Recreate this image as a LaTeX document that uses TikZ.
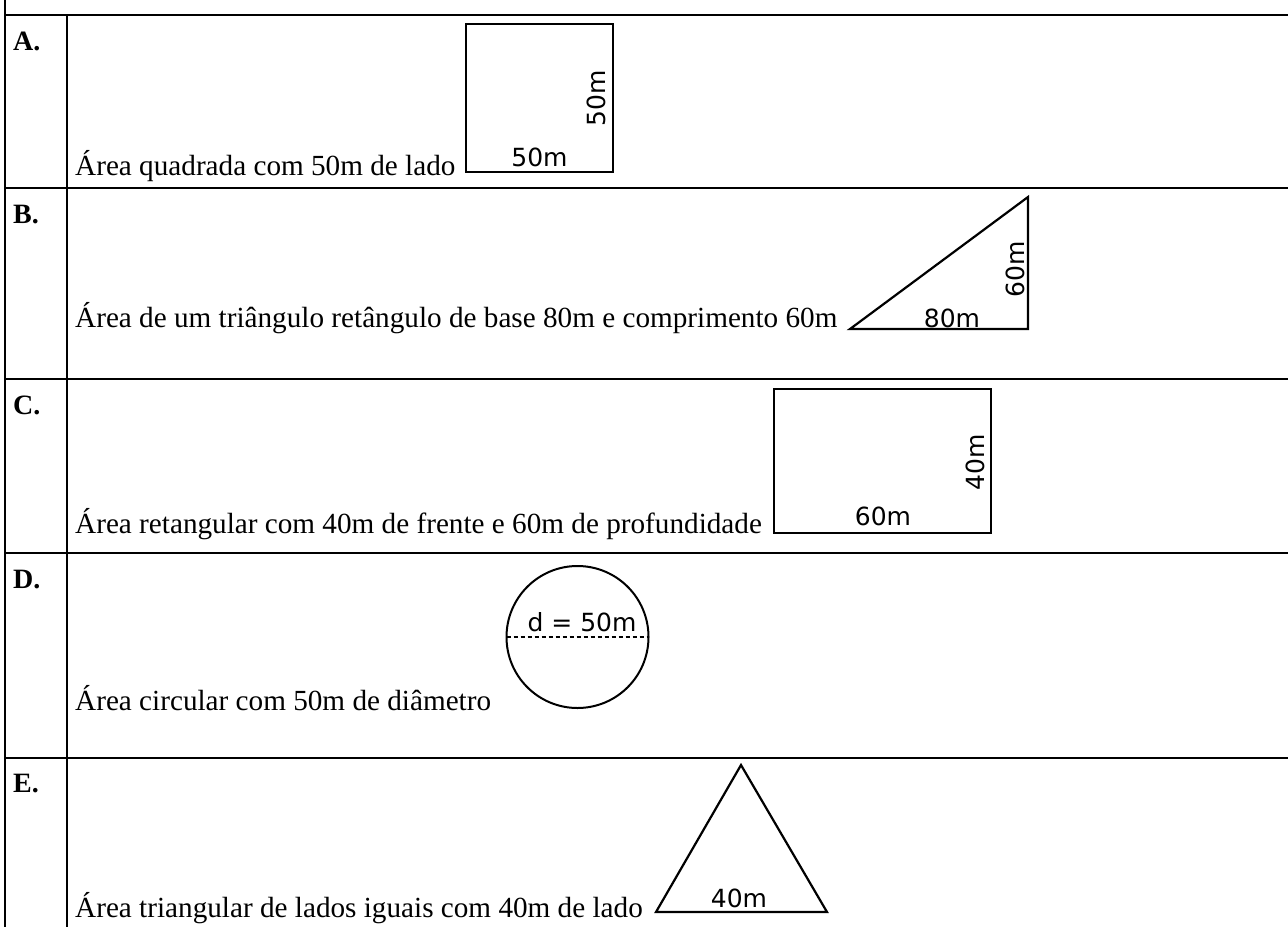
\documentclass[tikz,border=0pt]{standalone}
\usepackage{fontspec}
\setmainfont{Liberation Serif}
\newfontfamily\dimfont{DejaVu Sans}
\begin{document}
\begin{tikzpicture}[x=1pt,y=-1pt,
  body/.style={anchor=base west, inner sep=0pt, font=\fontsize{29.2}{35}\selectfont},
  lab/.style={anchor=base west, inner sep=0pt, font=\fontsize{28}{33}\selectfont\bfseries},
  dimlab/.style={inner sep=0pt, font=\dimfont\fontsize{25}{29}\selectfont},
  gridline/.style={line width=1.5pt},
  shp/.style={line width=2.2pt, line join=miter}]
\useasboundingbox (0,0) rectangle (1288,927);
% table lines
\draw[gridline] (5,0) -- (5,927);
\draw[gridline] (67,15) -- (67,927);
\foreach \yy in {15,188,379,553,758} \draw[gridline] (5,\yy) -- (1288,\yy);
% labels
\node[lab] (la) at (13,50) {A.};
\node[lab] (lb) at (13,223) {B.};
\node[lab] (lc) at (13,414) {C.};
\node[lab] (ld) at (13,588) {D.};
\node[lab] (le) at (13,792) {E.};
% row A
\node[body] (ta) at (75,175) {Área quadrada com 50m de lado};
\draw[shp] (466,24) rectangle (613,172);
\node[dimlab, anchor=base] (a1) at (539.5,166) {50m};
\node[dimlab, rotate=90, anchor=center] (a2) at (596,98) {50m};
% row B
\node[body] (tb) at (75,327) {Área de um triângulo retângulo de base 80m e comprimento 60m};
\draw[shp] (850,329) -- (1028,329) -- (1028,197) -- cycle;
\node[dimlab, anchor=base] (b1) at (952,327) {80m};
\node[dimlab, rotate=90, anchor=center] (b2) at (1015,269) {60m};
% row C
\node[body] (tc) at (75,533) {Área retangular com 40m de frente e 60m de profundidade};
\draw[shp] (774,389) rectangle (991,533);
\node[dimlab, anchor=base] (c1) at (883,525) {60m};
\node[dimlab, rotate=90, anchor=center] (c2) at (975,462) {40m};
% row D
\node[body] (td) at (75,710) {Área circular com 50m de diâmetro};
\draw[line width=2pt] (577.5,637) circle (71);
\draw[line width=1.2pt, dash pattern=on 4pt off 3pt] (506.5,637) -- (648.5,637);
\node[dimlab, anchor=base] (d1) at (582,631) {d = 50m};
% row E
\node[body] (te) at (75,917) {Área triangular de lados iguais com 40m de lado};
\draw[shp] (656,912) -- (827,912) -- (741,765) -- cycle;
\node[dimlab, anchor=base] (e1) at (739,907) {40m};
\end{tikzpicture}
\end{document}
